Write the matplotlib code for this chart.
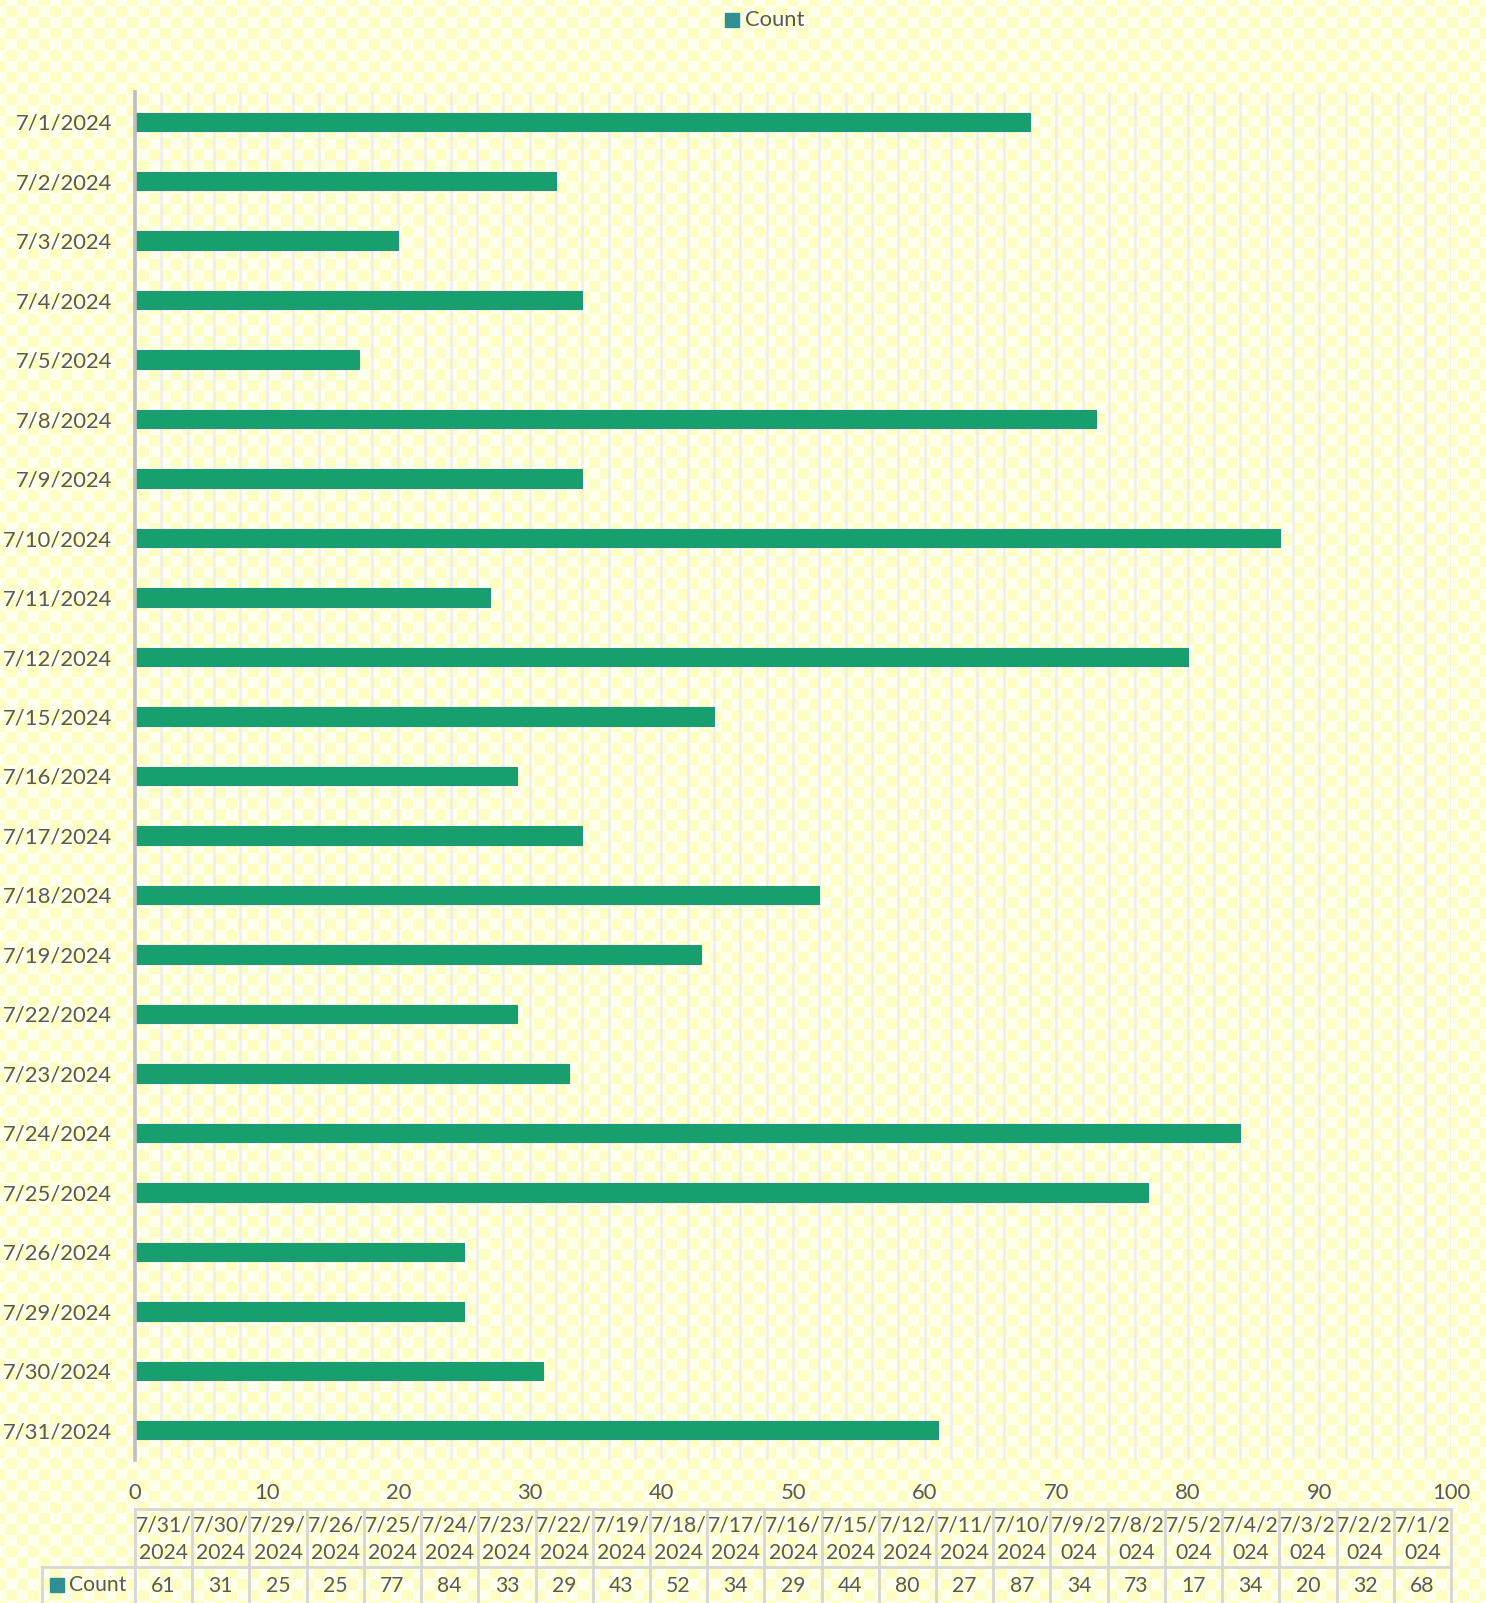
import numpy as np
import matplotlib
matplotlib.use("Agg")
import matplotlib.pyplot as plt
from matplotlib.patches import Rectangle
from matplotlib.lines import Line2D

# ---------------- data ----------------
dates = ["7/1/2024", "7/2/2024", "7/3/2024", "7/4/2024", "7/5/2024", "7/8/2024",
         "7/9/2024", "7/10/2024", "7/11/2024", "7/12/2024", "7/15/2024", "7/16/2024",
         "7/17/2024", "7/18/2024", "7/19/2024", "7/22/2024", "7/23/2024", "7/24/2024",
         "7/25/2024", "7/26/2024", "7/29/2024", "7/30/2024", "7/31/2024"]
counts = [68, 32, 20, 34, 17, 73, 34, 87, 27, 80, 44, 29, 34, 52, 43, 29, 33, 84,
          77, 25, 25, 31, 61]
series_name = "Count"
x_ticks = list(range(0, 101, 10))

# ---------------- style ----------------
W, H = 1486, 1603
DPI = 100
FONT = ["Lato", "DejaVu Sans"]
TXT = "#595959"
BAR = "#17A06E"
BAR_EDGE = "#2A8F8A"
KEY = "#2E8F94"
GRID = "#EEEEEE"
TBL = "#D6D6D6"
FS = 15.8
FS_TBL = 15.2

plt.rcParams["font.family"] = FONT

fig = plt.figure(figsize=(W / DPI, H / DPI), dpi=DPI)
fig.patch.set_facecolor("white")

# background pattern (pale yellow dotted checker)
yy, xx = np.mgrid[0:H, 0:W]
per = 11
ci = np.round(xx / per)
cj = np.round(yy / per)
d = np.hypot(xx - ci * per, yy - cj * per)
mask = ((ci + cj) % 2 == 0) & (d < 6.6)
img = np.ones((H, W, 3))
img[:] = np.array([255, 255, 238]) / 255
img[mask] = np.array([254, 254, 194]) / 255
fig.figimage(img, 0, 0, zorder=-10)

# main axes
L, R, T, B = 135, 1451, 92, 1460
ax = fig.add_axes([L / W, 1 - B / H, (R - L) / W, (B - T) / H])
ax.set_facecolor("none")
ypos = np.arange(len(dates))
ax.barh(ypos, counts, height=0.31, color=BAR, edgecolor=BAR_EDGE, linewidth=0.8, zorder=3)
ax.set_ylim(len(dates) - 0.5, -0.5)
ax.set_xlim(0, 100)
ax.set_yticks(ypos)
ax.set_yticklabels(dates, fontsize=FS, color=TXT)
ax.set_xticks(x_ticks)
ax.set_xticklabels([str(v) for v in x_ticks], fontsize=FS, color=TXT)
ax.set_xticks(np.arange(0, 101, 2), minor=True)
ax.tick_params(axis="both", which="both", length=0)
ax.tick_params(axis="y", pad=16.5)
ax.tick_params(axis="x", pad=16.5)
ax.grid(axis="x", which="both", color=GRID, linewidth=1.8, zorder=0)
for s in ["top", "right", "bottom"]:
    ax.spines[s].set_visible(False)
ax.spines["left"].set_color("#BFBFBF")
ax.spines["left"].set_linewidth(2.6)
ax.spines["left"].set_zorder(4)

# overlay axes in pixel coordinates for legend + data table
ov = fig.add_axes([0, 0, 1, 1])
ov.set_xlim(0, W)
ov.set_ylim(H, 0)
ov.axis("off")
ov.set_facecolor("none")

# top legend
ov.add_patch(Rectangle((725, 13), 14, 14, color=KEY))
ov.text(745, 20, series_name, fontsize=FS, color=TXT, va="center", ha="left")

# data table
rev_dates = dates[::-1]
rev_counts = counts[::-1]
n = len(rev_dates)
colw = (R - L) / n
t_top, t_mid, t_bot = 1509, 1567, 1625
lab_left = 42
ov.add_line(Line2D([L, R], [t_top, t_top], color=TBL, lw=2))
ov.add_line(Line2D([lab_left, R], [t_mid, t_mid], color=TBL, lw=2))
ov.add_line(Line2D([lab_left, R], [t_bot, t_bot], color=TBL, lw=2))
ov.add_line(Line2D([lab_left, lab_left], [t_mid, t_bot], color=TBL, lw=2))
for i in range(n + 1):
    x = L + i * colw
    ov.add_line(Line2D([x, x], [t_top, t_bot], color=TBL, lw=2))
for i, (dt, c) in enumerate(zip(rev_dates, rev_counts)):
    xc = L + (i + 0.5) * colw
    ov.text(xc, 1525, dt[:5], fontsize=FS_TBL, color=TXT, ha="center", va="center")
    ov.text(xc, 1553, dt[5:], fontsize=FS_TBL, color=TXT, ha="center", va="center")
    ov.text(xc, 1586, str(c), fontsize=FS_TBL, color=TXT, ha="center", va="center")
ov.add_patch(Rectangle((50, 1578), 14, 14, color=KEY))
ov.text(69, 1585, series_name, fontsize=FS_TBL, color=TXT, ha="left", va="center")

fig.savefig("out.png", dpi=DPI)
